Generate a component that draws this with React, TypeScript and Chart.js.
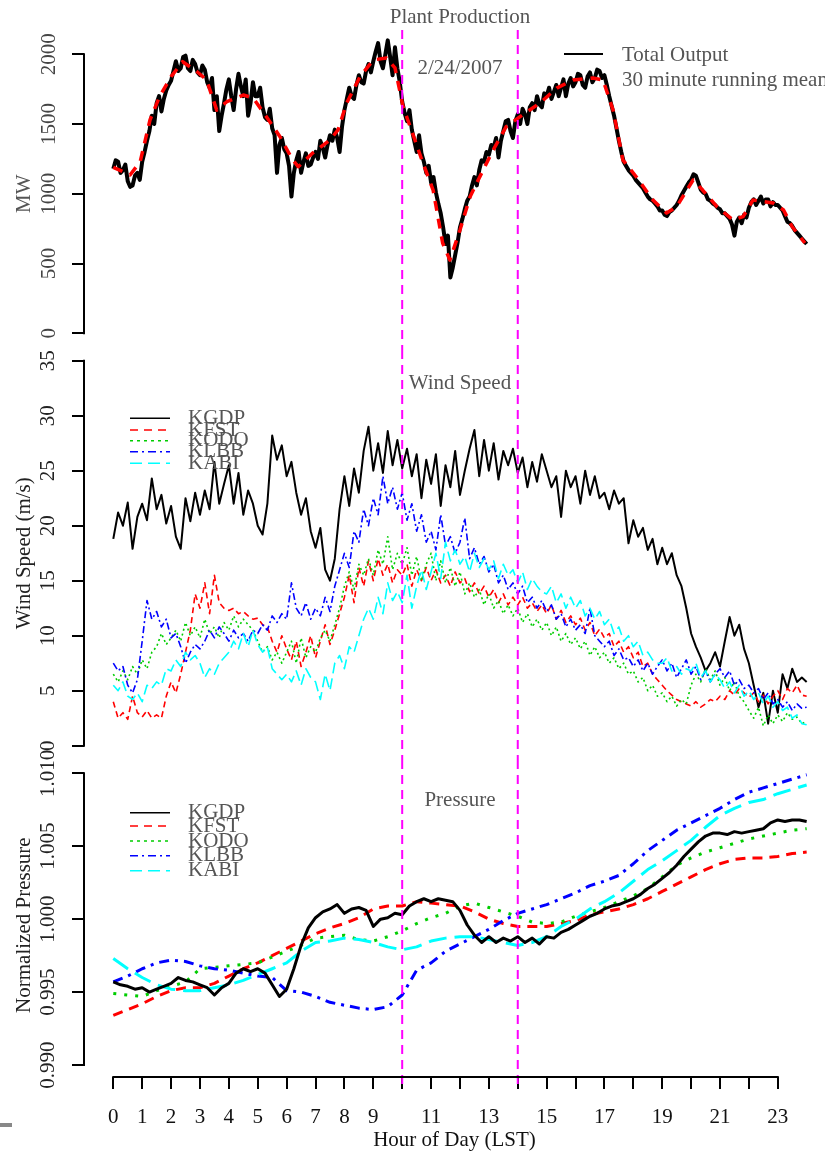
import React, { useEffect, useRef } from "react";
import { Chart, registerables } from "chart.js";

Chart.register(...registerables);

const SERIF = '"Liberation Serif", "Times New Roman", Times, serif';
const FONT_SIZE = 21;

// ---------------- data ----------------
const OUTPUT_STEP_H = 1 / 12; // 5-minute samples
const SAMPLE_STEP_H = 1 / 6; // 10-minute samples
const PRESS_STEP_H = 0.5;
const PRESS_KGDP_STEP_H = 0.25;

const OUTPUT_MW = [
  1180, 1240, 1230, 1150, 1170, 1210, 1090, 1050, 1060, 1130, 1150, 1100,
  1230, 1300, 1380, 1450, 1560, 1500, 1650, 1700, 1590, 1680, 1740, 1780,
  1810, 1880, 1950, 1880, 1900, 1980, 1990, 1900, 1880, 1960, 1930, 1870,
  1850, 1920, 1890, 1800, 1760, 1830, 1600, 1700, 1450, 1560, 1650, 1750,
  1820, 1700, 1600, 1750, 1860, 1770, 1700, 1820, 1560, 1650, 1800, 1700,
  1700, 1760, 1620, 1550, 1530, 1610, 1470, 1420, 1150, 1350, 1400, 1320,
  1290, 1200, 980, 1150, 1240, 1300, 1150, 1230, 1290, 1200, 1210, 1260,
  1300, 1250, 1380, 1330, 1260, 1350, 1420, 1380, 1460, 1400, 1300, 1480,
  1600, 1680, 1760, 1700, 1680, 1780, 1850, 1800, 1790, 1880, 1930, 1870,
  1950, 2020, 2080, 1950, 1900, 2000, 2100, 1980, 1850, 2050, 1900, 1800,
  1660, 1580, 1520, 1600, 1460, 1380, 1300, 1420, 1290, 1230, 1150, 1200,
  1080, 1120, 1010, 930, 860, 760, 640, 700, 400, 470, 560, 650,
  760, 820, 890, 950, 980, 1060, 1120, 1060, 1170, 1240, 1230, 1300,
  1280, 1350, 1330, 1400, 1260, 1380, 1450, 1520, 1530, 1450, 1400, 1520,
  1570, 1500, 1610, 1570, 1500, 1620, 1650, 1600, 1700, 1640, 1620, 1720,
  1700, 1760, 1680, 1730, 1780, 1700, 1760, 1820, 1700, 1790, 1830, 1770,
  1800, 1860, 1850, 1780, 1760, 1840, 1870, 1800, 1830, 1890, 1880, 1830,
  1850, 1780, 1700, 1630, 1560, 1470, 1380, 1300, 1230, 1200, 1170, 1150,
  1130, 1100, 1080, 1060, 1040, 1010, 980, 960, 950, 930, 910, 880,
  880, 850, 840, 870, 880, 900, 920, 950, 990, 1020, 1050, 1080,
  1100, 1140, 1130, 1080, 1030, 1010, 1000, 960, 950, 930, 920, 900,
  890, 860, 860, 840, 820, 780, 700, 800, 830, 790, 850, 830,
  900, 940, 960, 920, 950, 980, 930, 960, 960, 910, 940, 920,
  920, 900, 880, 840, 800, 790, 770, 740, 720, 700, 680, 660,
  640,
];

const MEAN_HOURS = [
  0, 0.58, 0.93, 1.27, 1.6, 2.0, 2.4, 2.9, 3.23, 3.58, 3.93, 4.5, 4.84, 5.3,
  5.77, 6.17, 6.4, 6.9, 7.5, 7.78, 8.08, 8.54, 9.0, 9.46, 9.75, 10.03, 10.4,
  10.72, 11.07, 11.4, 11.65, 12.0, 12.35, 12.8, 13.15, 13.6, 14.08, 14.77,
  15.35, 15.92, 16.6, 16.95, 17.3, 17.64, 18.1, 18.68, 19.15, 19.5, 20.07,
  20.4, 20.9, 21.45, 21.8, 22.14, 22.84, 23.2, 23.5, 23.94,
];
const MEAN_MW = [
  1190, 1135, 1230, 1529, 1696, 1840, 1947, 1875, 1816, 1600, 1660, 1708, 1687,
  1553, 1409, 1257, 1194, 1292, 1386, 1458, 1651, 1840, 1960, 1973, 1902, 1625,
  1409, 1220, 1027, 647, 525, 740, 979, 1170, 1314, 1481, 1553, 1651, 1758,
  1816, 1830, 1816, 1600, 1242, 1122, 955, 862, 907, 1099, 1027, 907, 812, 836,
  955, 934, 884, 764, 647,
];

const STATIONS = ["KGDP", "KFST", "KODO", "KLBB", "KABI"];

const WIND_KGDP = [
  18.8, 21.2, 20.0, 22.1, 17.9, 20.8,
  22.0, 20.5, 24.3, 21.5, 22.8, 20.2,
  21.8, 19.0, 17.9, 22.5, 20.4, 23.0,
  21.0, 23.2, 21.5, 25.8, 22.0, 23.8,
  25.5, 22.0, 24.8, 21.0, 23.2, 22.0,
  20.0, 19.2, 22.0, 28.2, 26.0, 27.3,
  24.5, 25.8, 23.0, 21.0, 22.5, 19.5,
  18.0, 19.8, 16.0, 15.0, 17.0, 21.5,
  24.5, 21.8, 25.2, 23.0, 26.8, 29.0,
  25.0, 27.5, 24.8, 28.6, 25.5, 27.8,
  25.2, 27.0, 24.5, 26.5, 22.5, 26.0,
  23.8, 26.5, 21.8, 25.5, 23.5, 26.8,
  22.8, 25.0, 27.0, 28.7, 24.5, 27.8,
  25.0, 27.5, 24.2, 26.8, 25.5, 27.0,
  24.8, 26.2, 23.5, 25.8, 24.0, 26.5,
  25.0, 23.5, 24.5, 20.8, 25.0, 23.5,
  24.5, 22.0, 25.0, 22.8, 24.5, 22.5,
  23.0, 21.5, 23.2, 22.0, 22.5, 18.4,
  20.5, 19.0, 19.8, 17.8, 18.8, 16.5,
  18.0, 16.5, 17.5, 15.5, 14.5, 12.5,
  10.2, 9.0, 8.0, 6.8, 7.5, 8.5,
  7.2, 9.5, 11.7, 10.0, 11.0, 8.8,
  7.5, 5.5, 3.5, 4.8, 2.0, 5.0,
  3.0, 6.5, 5.2, 7.0, 5.8, 6.2,
  5.8,
];
const WIND_KFST = [
  4.0, 2.5, 3.0, 2.4, 4.5, 3.0,
  2.6, 3.2, 2.5, 2.8, 2.5, 4.5,
  5.8, 4.8, 6.5, 8.5, 10.5, 13.8,
  12.5, 14.8, 12.0, 15.5, 13.0, 12.5,
  12.3, 12.5, 12.0, 12.2, 11.8, 11.5,
  11.6, 11.0, 10.8, 9.5, 8.5, 10.0,
  8.8, 7.8, 9.5, 7.2, 8.5, 10.0,
  8.0, 9.5, 11.0, 9.2, 10.5, 12.0,
  13.5, 15.5, 13.0, 16.2, 14.5, 16.8,
  15.0, 17.0, 15.5, 16.5, 14.8, 16.0,
  15.5, 16.5, 14.5, 16.0, 15.0, 16.2,
  15.0, 16.0, 14.8, 15.5, 14.5, 15.8,
  14.8, 15.2, 14.0, 14.8, 13.8, 14.5,
  13.5, 14.2, 13.0, 13.8, 12.8, 13.5,
  12.8, 13.5, 12.5, 13.0, 12.2, 12.8,
  12.0, 12.8, 11.5, 12.3, 11.2, 11.8,
  11.0, 11.6, 10.5, 11.2, 10.0, 10.6,
  9.8, 10.2, 9.0, 9.5, 8.5, 9.0,
  8.0, 8.5, 7.2, 7.5, 6.5, 6.0,
  5.5, 5.0, 4.6, 4.2, 4.0, 3.8,
  3.6, 4.0, 3.5, 3.8, 4.2, 4.0,
  4.5, 4.2, 5.0, 4.6, 5.2, 4.8,
  4.4, 4.8, 4.0, 4.6, 3.8, 4.5,
  5.0, 4.2, 5.2, 4.8, 5.5, 4.6,
  4.5,
];
const WIND_KODO = [
  6.5, 5.8, 6.8, 6.0, 7.2, 6.5,
  7.8, 7.0, 8.5, 9.0, 10.2, 9.2,
  9.8, 10.5, 9.5, 11.2, 10.0, 10.8,
  9.8, 11.5, 10.2, 10.8, 9.8, 11.2,
  10.5, 11.8, 10.8, 11.5, 11.0, 10.5,
  9.5, 8.5, 9.0, 7.8, 8.5, 7.5,
  8.5, 9.5, 7.5, 9.8, 8.0, 9.0,
  8.5, 9.8, 10.5, 9.5, 11.0, 12.5,
  14.5, 15.8, 14.2, 16.5, 15.5, 17.0,
  15.5, 17.8, 16.5, 19.0, 16.0, 17.5,
  16.5, 18.0, 15.5, 17.2, 15.0, 16.5,
  17.5, 15.0, 16.8, 14.8, 16.2, 14.5,
  15.8, 13.8, 14.8, 13.5, 14.2, 12.8,
  13.8, 12.5, 13.2, 12.0, 12.8, 11.8,
  12.5, 11.2, 12.0, 10.8, 11.5, 10.5,
  11.2, 10.0, 10.8, 9.5, 10.2, 9.2,
  9.8, 8.8, 9.5, 8.2, 9.0, 8.0,
  8.5, 7.5, 8.0, 7.0, 7.5, 6.5,
  6.8, 5.8, 6.2, 5.0, 5.5, 4.5,
  4.8, 4.0, 4.5, 3.6, 4.2, 3.8,
  5.5, 6.5, 5.8, 7.0, 6.0, 6.8,
  5.5, 6.2, 5.0, 5.8, 4.5, 4.0,
  3.2, 2.5, 3.5, 1.8, 2.8, 2.0,
  2.8, 2.2, 3.0, 2.4, 2.6, 2.0,
  2.2,
];
const WIND_KLBB = [
  7.5, 6.8, 7.2, 5.5, 4.8, 6.0,
  9.5, 13.2, 11.5, 12.2, 10.8, 11.5,
  9.8, 10.2, 9.0, 7.5, 8.5, 9.2,
  8.8, 9.5, 10.5, 9.8, 10.8, 10.2,
  9.5, 10.5, 9.8, 10.2, 9.5, 10.5,
  10.2, 11.0, 10.5, 11.8, 11.2, 12.0,
  11.5, 14.8, 12.5, 11.8, 13.0, 11.5,
  12.5, 11.8, 13.5, 12.2, 14.5, 16.0,
  17.5, 16.2, 19.5, 18.5, 21.5, 20.0,
  22.5, 21.0, 24.5, 22.0, 23.5, 21.5,
  23.0, 20.5, 22.0, 19.5, 21.0, 18.5,
  19.5, 17.8, 21.0, 18.2, 19.0, 17.5,
  18.5, 20.7, 17.0, 18.0, 16.5, 17.2,
  15.8, 16.5, 14.8, 15.5, 14.2, 14.8,
  13.8, 14.5, 13.0, 13.5, 12.5, 13.2,
  12.2, 12.8, 11.5, 12.0, 10.8, 11.5,
  10.5, 11.0, 10.2, 12.5, 10.0, 9.5,
  9.0, 9.5, 8.2, 8.8, 7.8, 8.0,
  7.2, 7.8, 6.8, 7.5, 6.5, 7.2,
  7.8, 6.8, 7.5, 6.2, 7.0, 7.8,
  6.5, 7.2, 6.0, 6.8, 5.8, 6.5,
  7.0, 6.2, 6.8, 5.5, 6.0, 5.2,
  5.5, 4.8, 5.2, 4.2, 4.8, 3.8,
  4.2, 3.5, 4.0, 3.2, 3.8, 3.4,
  3.5,
];
const WIND_KABI = [
  5.5, 5.0, 5.8, 4.5, 4.2, 4.8,
  4.0, 5.5, 5.2, 5.8, 5.5, 7.0,
  6.8, 7.8, 7.2, 8.5, 7.8, 8.2,
  7.5, 6.2, 7.0, 6.5, 7.5, 8.0,
  8.5, 9.5, 8.8, 10.2, 9.0, 10.5,
  9.2, 8.5, 9.0, 7.0, 6.5, 6.0,
  6.5, 5.8, 6.8, 5.5, 7.0, 6.2,
  5.8, 4.2, 6.5, 5.0, 7.5, 8.2,
  7.0, 9.0, 8.5, 10.0, 11.5, 12.5,
  11.5, 13.5, 12.0, 14.8, 13.2, 14.0,
  13.0, 15.5, 12.5, 14.5, 16.0, 14.2,
  15.8, 17.5, 15.2, 18.5, 16.8, 17.8,
  16.5, 17.2, 15.8, 17.5, 16.2, 17.0,
  16.0, 16.8, 15.2, 16.5, 15.5, 16.0,
  14.8, 15.8, 14.2, 15.2, 14.5, 14.0,
  13.8, 14.5, 13.0, 13.8, 12.5, 13.5,
  12.5, 13.2, 11.8, 12.5, 11.5, 12.2,
  11.0, 11.5, 10.2, 10.8, 9.5, 10.0,
  9.0, 9.5, 8.2, 8.5, 7.8, 7.5,
  7.5, 8.0, 6.8, 7.2, 6.5, 7.0,
  6.8, 7.5, 6.2, 6.8, 5.8, 6.5,
  6.0, 5.2, 5.8, 4.8, 5.5, 4.5,
  5.0, 4.2, 4.8, 3.8, 4.5, 3.5,
  4.0, 3.2, 3.5, 2.5, 2.8, 2.0,
  1.9,
];

const PRESS_KGDP = [
  0.9957, 0.9955, 0.9954, 0.9952, 0.9953, 0.9950, 0.9952, 0.9954,
  0.9956, 0.9960, 0.9958, 0.9957, 0.9955, 0.9953, 0.9948, 0.9953,
  0.9956, 0.9963, 0.9966, 0.9964, 0.9966, 0.9963, 0.9955, 0.9947,
  0.9952, 0.9966, 0.9982, 0.9994, 1.0001, 1.0005, 1.0007, 1.0010,
  1.0004, 1.0007, 1.0008, 1.0006, 0.9995, 1.0000, 1.0001, 1.0004,
  1.0003, 1.0009, 1.0012, 1.0014, 1.0012, 1.0014, 1.0013, 1.0012,
  1.0006, 0.9996, 0.9989, 0.9984, 0.9988, 0.9984, 0.9987, 0.9985,
  0.9988, 0.9984, 0.9987, 0.9983, 0.9988, 0.9987, 0.9991, 0.9993,
  0.9996, 0.9999, 1.0002, 1.0004, 1.0007, 1.0009, 1.0010, 1.0012,
  1.0014, 1.0017, 1.0021, 1.0024, 1.0028, 1.0032, 1.0037, 1.0043,
  1.0048, 1.0053, 1.0057, 1.0059, 1.0059, 1.0058, 1.0060, 1.0059,
  1.0060, 1.0061, 1.0062, 1.0066, 1.0068, 1.0067, 1.0068, 1.0068,
  1.0067,
];
const PRESS_KFST = [
  0.9934, 0.9938, 0.9942, 0.9947, 0.9951, 0.9953, 0.9953, 0.9956, 0.9961, 0.9966,
  0.9970, 0.9975, 0.9980, 0.9985, 0.9990, 0.9994, 0.9997, 1.0001, 1.0007, 1.0009,
  1.0009, 1.0012, 1.0011, 1.0010, 1.0009, 1.0005, 1.0000, 0.9997, 0.9995, 0.9995,
  0.9995, 0.9997, 0.9999, 1.0003, 1.0005, 1.0007, 1.0010, 1.0014, 1.0019, 1.0024,
  1.0029, 1.0034, 1.0038, 1.0041, 1.0042, 1.0042, 1.0043, 1.0045, 1.0046,
];
const PRESS_KODO = [
  0.9949, 0.9948, 0.9947, 0.9951, 0.9954, 0.9957, 0.9966, 0.9967, 0.9968, 0.9969,
  0.9970, 0.9974, 0.9978, 0.9982, 0.9987, 0.9988, 0.9989, 0.9986, 0.9985, 0.9988,
  0.9992, 0.9997, 1.0001, 1.0004, 1.0009, 1.0011, 1.0008, 1.0005, 1.0002, 0.9998,
  0.9997, 0.9998, 1.0002, 1.0005, 1.0008, 1.0012, 1.0016, 1.0021, 1.0029, 1.0037,
  1.0042, 1.0046, 1.0049, 1.0052, 1.0055, 1.0057, 1.0059, 1.0061, 1.0062,
];
const PRESS_KLBB = [
  0.9957, 0.9961, 0.9966, 0.9970, 0.9972, 0.9971, 0.9968, 0.9966, 0.9965, 0.9963,
  0.9961, 0.9960, 0.9951, 0.9950, 0.9947, 0.9943, 0.9941, 0.9939, 0.9938, 0.9940,
  0.9948, 0.9965, 0.9970, 0.9978, 0.9983, 0.9988, 0.9993, 0.9999, 1.0004, 1.0007,
  1.0010, 1.0014, 1.0018, 1.0023, 1.0026, 1.0030, 1.0038, 1.0047, 1.0054, 1.0061,
  1.0066, 1.0071, 1.0076, 1.0082, 1.0087, 1.0090, 1.0093, 1.0096, 1.0099,
];
const PRESS_KABI = [
  0.9973, 0.9966, 0.9960, 0.9955, 0.9952, 0.9951, 0.9951, 0.9953, 0.9955, 0.9958,
  0.9962, 0.9966, 0.9970, 0.9978, 0.9984, 0.9985, 0.9987, 0.9986, 0.9984, 0.9981,
  0.9979, 0.9981, 0.9985, 0.9987, 0.9988, 0.9988, 0.9986, 0.9984, 0.9982, 0.9984,
  0.9988, 0.9995, 1.0000, 1.0007, 1.0012, 1.0018, 1.0026, 1.0034, 1.0040, 1.0047,
  1.0054, 1.0063, 1.0071, 1.0076, 1.0080, 1.0082, 1.0086, 1.0089, 1.0092,
];

const HOUR_TICKS = [0, 1, 2, 3, 4, 5, 6, 7, 8, 9, 10, 11, 12, 13, 14, 15, 16, 17, 18, 19, 20, 21, 22, 23];
const HOUR_TICK_LABELS = ["0", "1", "2", "3", "4", "5", "6", "7", "8", "9", "", "11", "", "13", "", "15", "", "17", "", "19", "", "21", "", "23"];
const MW_TICKS = [0, 500, 1000, 1500, 2000];
const MW_TICK_LABELS = ["0", "500", "1000", "1500", "2000"];
const WIND_TICKS = [0, 5, 10, 15, 20, 25, 30, 35];
const WIND_TICK_LABELS = ["0", "5", "10", "15", "20", "25", "30", "35"];
const PRESS_TICKS = [0.99, 0.995, 1.0, 1.005, 1.01];
const PRESS_TICK_LABELS = ["0.990", "0.995", "1.000", "1.005", "1.010"];
const EVENT_HOURS = [10, 14];

// ---------------- styles / layout ----------------
const STATION_COLORS = ["#000000", "#ff0000", "#00cd00", "#0000ff", "#00ffff"];
const WIND_DASH = [[], [6, 4], [2, 3], [7, 3, 2, 3], [11, 5]];
const PRESS_DASH = [[], [10, 7], [3, 8], [10, 6, 3, 6], [18, 8]];
const LEGEND_DASH = [[], [8, 6], [3, 4], [8, 4, 2, 4], [12, 6]];
const X_MIN = -1.014;
const X_MAX = 24.635;
const PRESS_AXIS_MIN = 0.98918;

const toXY = (vals: number[], step: number) => vals.map((v, i) => ({ x: i * step, y: v }));
const pairXY = (xs: number[], ys: number[]) => xs.map((x, i) => ({ x, y: ys[i] }));

function lineDs(data: any[], color: string, width: number, dash: number[], order: number) {
  return {
    data,
    borderColor: color,
    backgroundColor: color,
    borderWidth: width,
    borderDash: dash,
    pointRadius: 0,
    tension: 0,
    fill: false,
    clip: false as any,
    order,
    borderJoinStyle: "round" as const,
  };
}

type TextItem = { t: string; x: number; y: number; align: CanvasTextAlign; color: string };
type Panel = {
  top: number;
  height: number;
  padTop: number;
  padBottom: number;
  yMin: number;
  yMax: number;
  yTicks: number[];
  yLabels: string[];
  yTickPad: number;
  tickColor: string;
  yTitle: string;
  yTitleColor: string;
  showX: boolean;
  vTop: number;
  vBottom: number;
  datasets: any[];
  texts: TextItem[];
  legend?: { x1: number; x2: number; tx: number; ys: number[]; labels: string[]; colors: string[]; dashes: number[][]; width: number };
};

function panelPlugin(p: Panel) {
  return {
    id: "rpanel",
    afterDatasetsDraw(chart: any) {
      const ctx = chart.ctx as CanvasRenderingContext2D;
      const xs = chart.scales.x;
      ctx.save();
      ctx.strokeStyle = "#ff00ff";
      ctx.lineWidth = 2;
      ctx.setLineDash([9, 6]);
      EVENT_HOURS.forEach((h) => {
        const px = xs.getPixelForValue(h);
        ctx.beginPath();
        ctx.moveTo(px, p.vTop);
        ctx.lineTo(px, p.vBottom);
        ctx.stroke();
      });
      ctx.restore();
    },
    afterDraw(chart: any) {
      const ctx = chart.ctx as CanvasRenderingContext2D;
      const xs = chart.scales.x;
      const ys = chart.scales.y;
      ctx.save();
      ctx.strokeStyle = "#000";
      ctx.lineWidth = 2;
      ctx.setLineDash([]);
      ctx.beginPath();
      ctx.moveTo(ys.right, ys.getPixelForValue(p.yTicks[0]) + 1);
      ctx.lineTo(ys.right, ys.getPixelForValue(p.yTicks[p.yTicks.length - 1]) - 1);
      ctx.stroke();
      if (p.showX) {
        ctx.beginPath();
        ctx.moveTo(xs.getPixelForValue(HOUR_TICKS[0]) - 1, xs.top);
        ctx.lineTo(xs.getPixelForValue(HOUR_TICKS[HOUR_TICKS.length - 1]) + 1, xs.top);
        ctx.stroke();
      }
      ctx.font = `${FONT_SIZE}px ${SERIF}`;
      ctx.textBaseline = "middle";
      p.texts.forEach((t) => {
        ctx.fillStyle = t.color;
        ctx.textAlign = t.align;
        ctx.fillText(t.t, t.x, t.y);
      });
      if (p.legend) {
        const L = p.legend;
        L.labels.forEach((lab, i) => {
          ctx.strokeStyle = L.colors[i];
          ctx.lineWidth = L.width;
          ctx.setLineDash(L.dashes[i]);
          ctx.beginPath();
          ctx.moveTo(L.x1, L.ys[i]);
          ctx.lineTo(L.x2, L.ys[i]);
          ctx.stroke();
        });
        ctx.setLineDash([]);
        ctx.fillStyle = "#555";
        ctx.textAlign = "left";
        L.labels.forEach((lab, i) => {
          if (lab) ctx.fillText(lab, L.tx, L.ys[i]);
        });
      }
      ctx.restore();
    },
  };
}

function buildChart(canvas: HTMLCanvasElement, p: Panel) {
  return new Chart(canvas, {
    type: "line",
    data: { datasets: p.datasets },
    options: {
      responsive: false,
      animation: false,
      events: [],
      devicePixelRatio: 1,
      layout: { padding: { top: p.padTop, bottom: p.padBottom, left: 0, right: 0 } },
      plugins: { legend: { display: false }, tooltip: { enabled: false }, title: { display: false } },
      scales: {
        x: {
          type: "linear",
          min: X_MIN,
          max: X_MAX,
          display: p.showX,
          afterBuildTicks: (s: any) => {
            s.ticks = HOUR_TICKS.map((v) => ({ value: v }));
          },
          afterFit: (s: any) => {
            if (p.showX) s.height = 74;
            s.paddingLeft = 0;
            s.paddingRight = 0;
          },
          border: { display: false },
          grid: { drawOnChartArea: false, drawTicks: true, tickLength: 12, color: "#000", lineWidth: 2 },
          ticks: {
            autoSkip: false,
            maxRotation: 0,
            minRotation: 0,
            padding: 16,
            color: "#111",
            font: { family: SERIF, size: FONT_SIZE },
            callback: (_v: any, i: number) => HOUR_TICK_LABELS[i],
          },
          title: {
            display: true,
            text: "Hour of Day (LST)",
            color: "#111",
            font: { family: SERIF, size: FONT_SIZE },
            padding: { top: 0, bottom: -2 },
          },
        },
        y: {
          type: "linear",
          min: p.yMin,
          max: p.yMax,
          afterBuildTicks: (s: any) => {
            s.ticks = p.yTicks.map((v) => ({ value: v }));
          },
          afterFit: (s: any) => {
            s.width = 84;
            s.paddingTop = 0;
            s.paddingBottom = 0;
          },
          border: { display: false },
          grid: { drawOnChartArea: false, drawTicks: true, tickLength: 12, color: "#000", lineWidth: 2 },
          ticks: {
            autoSkip: false,
            minRotation: 90,
            maxRotation: 90,
            crossAlign: "center",
            padding: p.yTickPad,
            color: p.tickColor,
            font: { family: SERIF, size: FONT_SIZE },
            callback: (_v: any, i: number) => p.yLabels[i],
          },
          title: {
            display: true,
            text: p.yTitle,
            color: p.yTitleColor,
            font: { family: SERIF, size: FONT_SIZE },
            padding: { top: 12, bottom: 0 },
          },
        },
      },
    } as any,
    plugins: [panelPlugin(p) as any],
  });
}

const WIND_SERIES = [WIND_KGDP, WIND_KFST, WIND_KODO, WIND_KLBB, WIND_KABI];
const PRESS_SERIES = [PRESS_KGDP, PRESS_KFST, PRESS_KODO, PRESS_KLBB, PRESS_KABI];

const PANELS: Panel[] = [
  {
    top: 0,
    height: 350,
    padTop: 54.3,
    padBottom: 16.7,
    yMin: 0,
    yMax: 2000,
    yTicks: MW_TICKS,
    yLabels: MW_TICK_LABELS,
    yTickPad: 2,
    tickColor: "#444",
    yTitle: "MW",
    yTitleColor: "#555",
    showX: false,
    vTop: 30,
    vBottom: 350,
    datasets: [
      lineDs(pairXY(MEAN_HOURS, MEAN_MW), "#ff0000", 3.5, [10, 8], 0),
      lineDs(toXY(OUTPUT_MW, OUTPUT_STEP_H), "#000000", 4, [], 1),
    ],
    texts: [
      { t: "Plant Production", x: 460, y: 17, align: "center", color: "#555" },
      { t: "2/24/2007", x: 460, y: 68, align: "center", color: "#555" },
      { t: "Total Output", x: 622, y: 55, align: "left", color: "#555" },
      { t: "30 minute running mean", x: 622, y: 80, align: "left", color: "#555" },
    ],
    legend: { x1: 564, x2: 603, tx: 622, ys: [54], labels: [""], colors: ["#000"], dashes: [[]], width: 2 },
  },
  {
    top: 350,
    height: 410,
    padTop: 10.7,
    padBottom: 14.3,
    yMin: 0,
    yMax: 35,
    yTicks: WIND_TICKS,
    yLabels: WIND_TICK_LABELS,
    yTickPad: 13,
    tickColor: "#222",
    yTitle: "Wind Speed (m/s)",
    yTitleColor: "#222",
    showX: false,
    vTop: 0,
    vBottom: 410,
    datasets: WIND_SERIES.map((s, i) =>
      lineDs(toXY(s, SAMPLE_STEP_H), STATION_COLORS[i], i === 0 ? 2 : 1.6, WIND_DASH[i], 5 - i)
    ),
    texts: [{ t: "Wind Speed", x: 460, y: 33.5, align: "center", color: "#555" }],
    legend: {
      x1: 130,
      x2: 170,
      tx: 188,
      ys: [68.3, 80, 90.7, 101.7, 113.3],
      labels: STATIONS,
      colors: STATION_COLORS,
      dashes: LEGEND_DASH,
      width: 1.5,
    },
  },
  {
    top: 740,
    height: 411,
    padTop: 33.3,
    padBottom: 0,
    yMin: PRESS_AXIS_MIN,
    yMax: 1.01,
    yTicks: PRESS_TICKS,
    yLabels: PRESS_TICK_LABELS,
    yTickPad: 0,
    tickColor: "#222",
    yTitle: "Normalized Pressure",
    yTitleColor: "#222",
    showX: true,
    vTop: 20,
    vBottom: 350,
    datasets: PRESS_SERIES.map((s, i) =>
      lineDs(toXY(s, i === 0 ? PRESS_KGDP_STEP_H : PRESS_STEP_H), STATION_COLORS[i], 3, PRESS_DASH[i], i === 0 ? 0 : 6 - i)
    ),
    texts: [{ t: "Pressure", x: 460, y: 60, align: "center", color: "#555" }],
    legend: {
      x1: 130,
      x2: 170,
      tx: 188,
      ys: [72.7, 86, 101, 115.7, 130.7],
      labels: STATIONS,
      colors: STATION_COLORS,
      dashes: LEGEND_DASH,
      width: 1.5,
    },
  },
];

export default function App() {
  const refs = [useRef<HTMLCanvasElement>(null), useRef<HTMLCanvasElement>(null), useRef<HTMLCanvasElement>(null)];
  useEffect(() => {
    const charts = PANELS.map((p, i) => buildChart(refs[i].current as HTMLCanvasElement, p));
    return () => charts.forEach((c) => c.destroy());
  }, []);
  return (
    <div style={{ position: "absolute", left: 0, top: 0, width: 825, height: 1151, overflow: "hidden", background: "#fff" }}>
      {PANELS.map((p, i) => (
        <canvas
          key={i}
          ref={refs[i]}
          width={825}
          height={p.height}
          style={{ position: "absolute", left: 0, top: p.top, width: 825, height: p.height }}
        />
      ))}
      <div style={{ position: "absolute", left: 0, top: 1123, width: 12, height: 4, background: "#888" }} />
    </div>
  );
}
